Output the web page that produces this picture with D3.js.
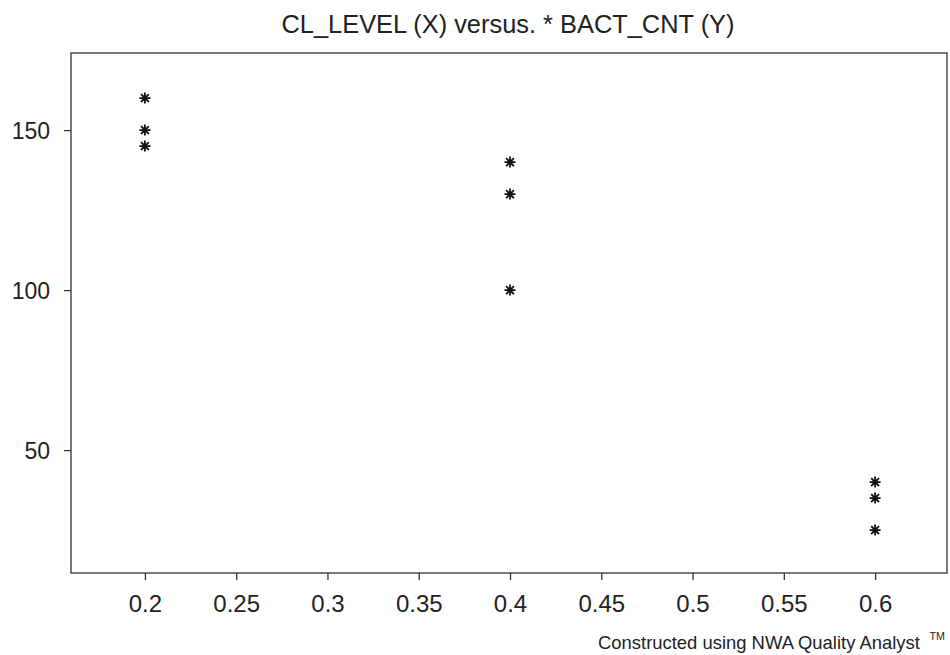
<!DOCTYPE html>
<html>
<head>
<meta charset="utf-8">
<script src="https://cdn.jsdelivr.net/npm/d3@7"></script>
<style>
  body { margin: 0; background: #fff; }
  svg text { font-family: "Liberation Sans", Arial, sans-serif; fill: #222; }
</style>
</head>
<body>
<div id="chart"></div>
<script>
// data
const clLevel = [0.2, 0.2, 0.2, 0.4, 0.4, 0.4, 0.6, 0.6, 0.6];
const bactCnt = [160, 150, 145, 140, 130, 100, 40, 35, 25];
const xTicks = [0.2, 0.25, 0.3, 0.35, 0.4, 0.45, 0.5, 0.55, 0.6];
const yTicks = [50, 100, 150];

const W = 950, H = 655;
const box = { left: 71, right: 947, top: 53, bottom: 573 };

const svg = d3.select('#chart').append('svg')
    .attr('width', W).attr('height', H);

const x = d3.scaleLinear().domain([0.1595, 0.6394]).range([box.left, box.right]);
const y = d3.scaleLinear().domain([11.6, 174.1]).range([box.bottom, box.top]);

// title
svg.append('text')
    .attr('x', 508).attr('y', 33)
    .attr('text-anchor', 'middle')
    .attr('font-size', 25)
    .attr('textLength', 453).attr('lengthAdjust', 'spacingAndGlyphs')
    .text('CL_LEVEL (X) versus. * BACT_CNT (Y)');

// frame
svg.append('rect')
    .attr('x', box.left).attr('y', box.top)
    .attr('width', box.right - box.left).attr('height', box.bottom - box.top)
    .attr('fill', 'none').attr('stroke', '#333').attr('stroke-width', 1.3);

// axes
const xAxis = svg.append('g')
    .attr('transform', `translate(0,${box.bottom})`)
    .call(d3.axisBottom(x).tickValues(xTicks).tickSize(7).tickPadding(15)
        .tickFormat(d => String(+d.toFixed(2))));
const yAxis = svg.append('g')
    .attr('transform', `translate(${box.left},0)`)
    .call(d3.axisLeft(y).tickValues(yTicks).tickSize(7).tickPadding(14));

[xAxis, yAxis].forEach(g => {
    g.select('.domain').remove();
    g.selectAll('.tick line').attr('stroke', '#333').attr('stroke-width', 1.3);
    g.selectAll('.tick text')
        .attr('font-family', '"Liberation Sans", Arial, sans-serif')
        .attr('fill', '#222');
});
xAxis.selectAll('.tick text').attr('font-size', 24);
yAxis.selectAll('.tick text').attr('font-size', 23).attr('dy', '0.35em');

// asterisk markers
const r = 5.5;
const pts = svg.append('g').attr('stroke', '#111').attr('stroke-width', 1.8);
clLevel.forEach((cx, i) => {
    const px = x(cx), py = y(bactCnt[i]);
    const g = pts.append('g').attr('transform', `translate(${px},${py})`);
    [0, 45, 90, 135].forEach(a => {
        const rad = a * Math.PI / 180;
        g.append('line')
            .attr('x1', -r * Math.cos(rad)).attr('y1', -r * Math.sin(rad))
            .attr('x2', r * Math.cos(rad)).attr('y2', r * Math.sin(rad));
    });
});

// footer (one text, TM as superscript tspan)
const foot = svg.append('text')
    .attr('x', 598).attr('y', 649)
    .attr('font-size', 19)
    .attr('textLength', 347).attr('lengthAdjust', 'spacingAndGlyphs');
foot.append('tspan').text('Constructed using NWA Quality Analyst');
foot.append('tspan').attr('font-size', 11).attr('dx', 10).attr('dy', -9).text('TM');
</script>
</body>
</html>
